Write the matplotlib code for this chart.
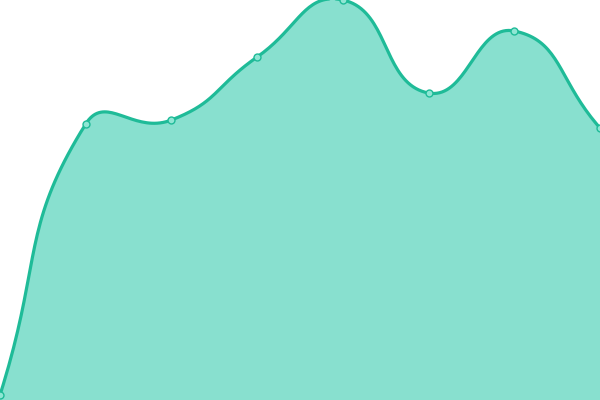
import numpy as np
import matplotlib
matplotlib.use("Agg")
import matplotlib.pyplot as plt

# one point per slot (0 = bottom, 400 = top)
slots = [0, 1, 2, 3, 4, 5, 6, 7]
values = [5, 276, 280, 343, 400, 307, 369, 272]

line_col = '#1fbb98'
fill_col = '#88e0cf'


def smooth_curve(xs, ys, smooth=0.5, n=40):
    # bezier smoothing like echarts' "smooth: true"
    pts = np.column_stack([xs, ys]).astype(float)
    m = len(pts)
    cps_in = pts.copy()
    cps_out = pts.copy()
    # end points: control point halfway towards the neighbour
    cps_out[0] = pts[0] + smooth * (pts[1] - pts[0])
    cps_in[-1] = pts[-1] - smooth * (pts[-1] - pts[-2])
    for i in range(1, m - 1):
        p0, p1, p2 = pts[i - 1], pts[i], pts[i + 1]
        v = p2 - p0
        d0 = np.hypot(*(p1 - p0))
        d1 = np.hypot(*(p2 - p1))
        s = d0 + d1
        if s > 0:
            d0, d1 = d0 / s, d1 / s
        cps_in[i] = p1 - v * smooth * d0
        cps_out[i] = p1 + v * smooth * d1
    t = np.linspace(0, 1, n)[:, None]
    out = []
    for i in range(m - 1):
        a, b, c, d = pts[i], cps_out[i], cps_in[i + 1], pts[i + 1]
        seg = (1 - t) ** 3 * a + 3 * (1 - t) ** 2 * t * b + 3 * (1 - t) * t ** 2 * c + t ** 3 * d
        out.append(seg if i == 0 else seg[1:])
    out = np.vstack(out)
    return out[:, 0], out[:, 1]


fig = plt.figure(figsize=(6, 4), dpi=100)
ax = fig.add_axes([0, 0, 1, 1])
xs = np.array(slots) * 600 / 7
cx, cy = smooth_curve(xs, values)
ax.fill_between(cx, 0, cy, color=fill_col, lw=0)
ax.plot(cx, cy, color=line_col, lw=2.3, solid_capstyle='round')
ax.plot(xs, values, 'o', ms=5, mfc='#8fe6d4', mec=line_col, mew=1)
ax.set_xlim(0, 600)
ax.set_ylim(0, 400)
ax.axis('off')
fig.savefig('out.png', dpi=100)
